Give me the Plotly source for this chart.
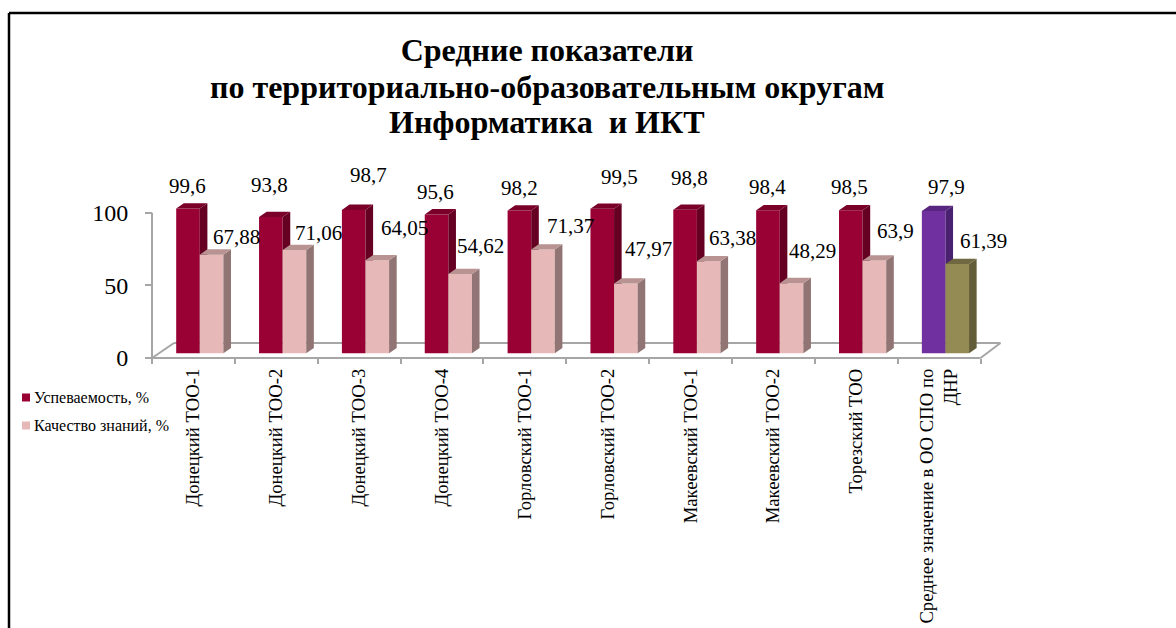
import plotly.graph_objects as go

# ---- data ----
categories = ["Донецкий ТОО-1", "Донецкий ТОО-2", "Донецкий ТОО-3", "Донецкий ТОО-4",
              "Горловский ТОО-1", "Горловский ТОО-2", "Макеевский ТОО-1", "Макеевский ТОО-2",
              "Торезский ТОО", "Среднее значение в ОО СПО по<br>ДНР"]
uspevaemost = [99.6, 93.8, 98.7, 95.6, 98.2, 99.5, 98.8, 98.4, 98.5, 97.9]
kachestvo = [67.88, 71.06, 64.05, 54.62, 71.37, 47.97, 63.38, 48.29, 63.9, 61.39]
uspevaemost_text = ["99,6", "93,8", "98,7", "95,6", "98,2", "99,5", "98,8", "98,4", "98,5", "97,9"]
kachestvo_text = ["67,88", "71,06", "64,05", "54,62", "71,37", "47,97", "63,38", "48,29", "63,9", "61,39"]
title_lines = ["Средние показатели", "по территориально-образовательным округам", "Информатика  и ИКТ"]
series_names = ["Успеваемость, %", "Качество знаний, %"]

# label placement (page pixels of label centres)
label1_px = [187.7, 270, 368, 436, 519, 619, 689, 768, 850, 946]
label1_py = [186, 185, 175, 192, 188, 177, 178, 187, 187, 187]
label2_px = [236, 319, 404, 481, 570, 648, 732, 813, 896, 983]
label2_py = [237, 233, 228, 246, 226, 249, 238, 251, 231, 241]

# colours: front, side, top
red = ("#990033", "#660022", "#7a0029")
pink = ("#E6B8B7", "#917574", "#B89392")
purple = ("#7030A0", "#4A2070", "#582680")
olive = ("#948A54", "#635C38", "#706840")
GRAY = "#A6A6A6"
FONT = "Liberation Serif"

# ---- geometry ----
W, H = 1176, 628
STEP = 82.85          # px per category
K = 1.453             # px per value unit
Y0 = 358              # page y of value 0
AXIS_X = 152          # page x of the y axis
LEFT, RIGHT, TOP, BOTTOM = 148, 1004, 198, 362
x_range = [-0.5 - (AXIS_X - LEFT) / STEP, -0.5 + (RIGHT - AXIS_X) / STEP]
y_range = [-(BOTTOM - Y0) / K, (Y0 - TOP) / K]
bar_w = 23.6 / STEP
off1 = (176.2 - AXIS_X - STEP / 2) / STEP
off2 = off1 + bar_w
base = 4.7 / K        # front face sits forward on the floor
dx = 7.6 / STEP
dy = 5.3 / K


def pxx(p):
    return (p - LEFT) / (RIGHT - LEFT)


def pxy(p):
    return (BOTTOM - p) / (BOTTOM - TOP)


def faces(values, offset, colours_for):
    """Side and top faces of the pseudo-3D bars, grouped by colour."""
    groups = {}
    for i, v in enumerate(values):
        col = colours_for(i)
        xl = i + offset
        xr = xl + bar_w
        top = base + v
        gs = groups.setdefault(col[1], ([], []))
        gs[0].extend([xr, xr + dx, xr + dx, xr, xr, None])
        gs[1].extend([base, base + dy, top + dy, top, base, None])
        gt = groups.setdefault(col[2], ([], []))
        gt[0].extend([xl, xl + dx, xr + dx, xr, xl, None])
        gt[1].extend([top, top + dy, top + dy, top, top, None])
    return groups


def col1(i):
    return purple if i == 9 else red


def col2(i):
    return olive if i == 9 else pink


fig = go.Figure()
fig.add_trace(go.Bar(x=categories, y=uspevaemost, base=base, width=bar_w, offset=off1,
                     marker=dict(color=[col1(i)[0] for i in range(10)], line_width=0),
                     name=series_names[0], showlegend=False, hoverinfo="skip"))
for color, (xs, ys) in faces(uspevaemost, off1, col1).items():
    fig.add_trace(go.Scatter(x=xs, y=ys, xaxis="x2", mode="lines", fill="toself", fillcolor=color,
                             line=dict(width=0), showlegend=False, hoverinfo="skip"))
fig.add_trace(go.Bar(x=list(range(10)), y=kachestvo, base=base, width=bar_w, offset=off2, xaxis="x3",
                     marker=dict(color=[col2(i)[0] for i in range(10)], line_width=0),
                     name=series_names[1], showlegend=False, hoverinfo="skip"))
for color, (xs, ys) in faces(kachestvo, off2, col2).items():
    fig.add_trace(go.Scatter(x=xs, y=ys, xaxis="x3", mode="lines", fill="toself", fillcolor=color,
                             line=dict(width=0), showlegend=False, hoverinfo="skip"))

annotations = []
for vals, texts, lx, ly in ((uspevaemost, uspevaemost_text, label1_px, label1_py),
                            (kachestvo, kachestvo_text, label2_px, label2_py)):
    for i, (v, t) in enumerate(zip(vals, texts)):
        annotations.append(dict(x=i, y=v, xref="x", yref="y", text=t, showarrow=False,
                                xanchor="center", yanchor="middle",
                                xshift=lx[i] - (AXIS_X + STEP * (i + 0.5)),
                                yshift=(Y0 - v * K) - ly[i],
                                font=dict(family=FONT, size=21, color="#000000")))

shapes = []
line = dict(color=GRAY, width=2)
# floor of the 3D box and y axis line
shapes += [
    dict(type="line", xref="x", yref="y", x0=-0.5, x1=9.5, y0=0, y1=0, line=line, layer="below"),
    dict(type="line", xref="x", yref="y", x0=-0.5, x1=-0.5, y0=0, y1=100, line=line, layer="below"),
    dict(type="line", xref="x", yref="y", x0=-0.5, x1=-0.5 + 22 / STEP, y0=0, y1=15 / K, line=line, layer="below"),
    dict(type="line", xref="x", yref="y", x0=9.5, x1=9.5 + 20 / STEP, y0=0, y1=15 / K, line=line, layer="below"),
    dict(type="line", xref="x", yref="y", x0=-0.5 + 22 / STEP, x1=9.5 + 20 / STEP, y0=15 / K, y1=15 / K, line=line, layer="below"),
]
# outer frame
frame = dict(color="#000000", width=2.5)
shapes += [
    dict(type="line", xref="paper", yref="paper", x0=pxx(9), x1=pxx(W), y0=pxy(13), y1=pxy(13), line=frame),
    dict(type="line", xref="paper", yref="paper", x0=pxx(9), x1=pxx(9), y0=pxy(13), y1=pxy(H), line=frame),
]
# legend
for name, col, py in ((series_names[0], red[0], 397.5), (series_names[1], pink[0], 425.5)):
    shapes.append(dict(type="rect", xref="paper", yref="paper", x0=pxx(22), x1=pxx(30),
                       y0=pxy(py - 4), y1=pxy(py + 4), fillcolor=col, line_width=0))
    annotations.append(dict(x=pxx(32), y=pxy(py), xref="paper", yref="paper", text=name, showarrow=False,
                            xanchor="left", yanchor="middle",
                            font=dict(family=FONT, size=16, color="#000000")))
# title: line 2 and 3 keep the reference's tighter line spacing
for text, py in zip(title_lines[1:], (87, 122)):
    annotations.append(dict(x=pxx(547), y=pxy(py), xref="paper", yref="paper", text=text, showarrow=False,
                            xanchor="center", yanchor="middle",
                            font=dict(family=FONT, size=32, color="#000000", weight="bold")))

fig.update_layout(
    width=W, height=H, autosize=False, paper_bgcolor="#ffffff", plot_bgcolor="#ffffff",
    margin=dict(l=LEFT, r=W - RIGHT, t=TOP, b=H - BOTTOM),
    showlegend=False, barmode="overlay", shapes=shapes, annotations=annotations,
    title=dict(text=title_lines[0], x=547 / W, xanchor="center", y=1 - 50 / H, yanchor="middle",
               automargin=False,
               font=dict(family=FONT, size=32, color="#000000", weight="bold")),
    xaxis=dict(type="category", categoryorder="array", categoryarray=categories, range=x_range,
               automargin=False,
               tickson="boundaries", ticks="outside", ticklen=5, tickcolor=GRAY, tickwidth=2,
               showline=False, showgrid=False, zeroline=False, tickangle=-90, ticklabelstandoff=6,
               tickfont=dict(family=FONT, size=18.7, color="#000000"),
               anchor="free", position=(BOTTOM - Y0) / (BOTTOM - TOP)),
    xaxis2=dict(overlaying="x", range=x_range, visible=False, anchor="y"),
    xaxis3=dict(overlaying="x", range=x_range, visible=False, anchor="y"),
    yaxis=dict(range=y_range, tickvals=[0, 50, 100], ticktext=["0", "50", "100"], ticks="outside", ticklen=7,
               automargin=False,
               tickcolor=GRAY, tickwidth=2, showline=False, showgrid=False, zeroline=False,
               anchor="free", position=(AXIS_X - LEFT) / (RIGHT - LEFT), ticklabelstandoff=12,
               tickfont=dict(family=FONT, size=24, color="#000000")),
)

fig.write_html("out.html", config={"displayModeBar": False},
               post_script="document.body.style.margin='0';")
